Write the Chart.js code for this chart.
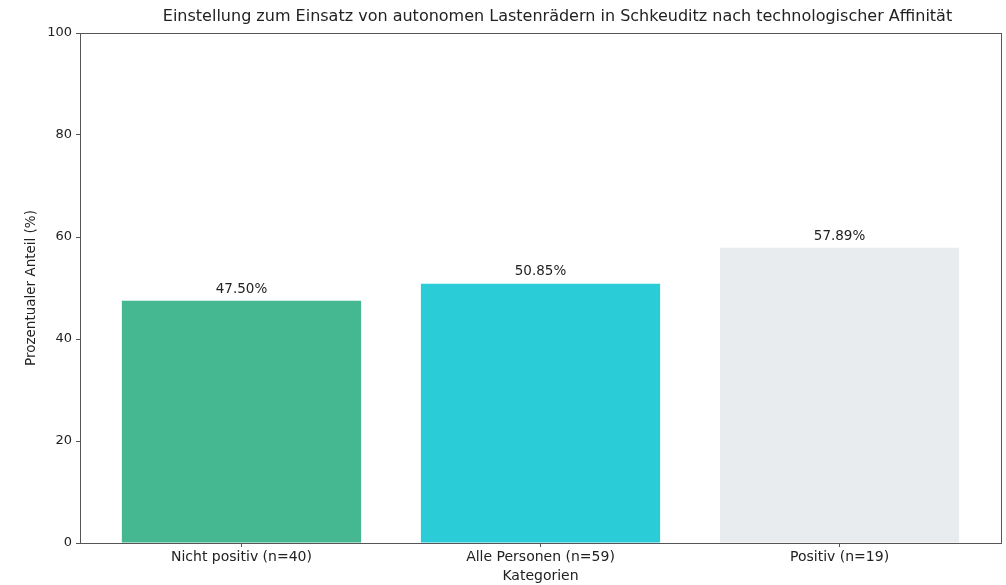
<!DOCTYPE html>
<html lang="de">
<head>
<meta charset="UTF-8">
<title>Lastenräder Schkeuditz</title>
<script src="https://cdn.jsdelivr.net/npm/chart.js"></script>
<style>
  body { margin: 0; background: #fff; }
  #wrap { width: 1006px; height: 585px; }
</style>
</head>
<body>
<div id="wrap"><canvas id="grafico" width="1006" height="585"></canvas></div>
<script>
const kategorien = ['Nicht positiv (n=40)', 'Alle Personen (n=59)', 'Positiv (n=19)'];
const anteile = [47.50, 50.85, 57.89];
const farben = ['#45b791', '#2accd8', '#e8ecef'];
const yTicks = [0, 20, 40, 60, 80, 100];
const titel = 'Einstellung zum Einsatz von autonomen Lastenrädern in Schkeuditz nach technologischer Affinität';

const schrift = "'DejaVu Sans', sans-serif";

// titel über dem plotbereich, rahmen + werte über den balken
const rahmenUndWerte = {
  id: 'rahmenUndWerte',
  afterDatasetsDraw(chart) {
    const ctx = chart.ctx;
    const a = chart.chartArea;
    ctx.save();
    ctx.strokeStyle = '#555';
    ctx.lineWidth = 1;
    ctx.strokeRect(Math.round(a.left) + 0.5, Math.round(a.top) + 0.5, Math.round(a.right - a.left), Math.round(a.bottom - a.top));
    ctx.fillStyle = '#222';
    ctx.textAlign = 'center';
    ctx.textBaseline = 'middle';
    ctx.font = '16px ' + schrift;
    ctx.fillText(titel, (a.left + a.right) / 2 + 17, a.top - 16);
    ctx.font = '13.5px ' + schrift;
    ctx.textBaseline = 'bottom';
    chart.getDatasetMeta(0).data.forEach(function (bar, i) {
      ctx.fillText(anteile[i].toFixed(2) + '%', bar.x, bar.y - 5);
    });
    ctx.restore();
  }
};

new Chart(document.getElementById('grafico'), {
  type: 'bar',
  data: {
    datasets: [{
      data: anteile.map(function (v, i) { return { x: i, y: v }; }),
      backgroundColor: farben,
      borderWidth: 0,
      barPercentage: 0.8,
      categoryPercentage: 1.0
    }]
  },
  options: {
    responsive: false,
    animation: false,
    layout: { padding: { top: 33, right: 5, left: 0, bottom: 0 } },
    plugins: {
      legend: { display: false },
      tooltip: { enabled: false },
      title: { display: false }
    },
    scales: {
      x: {
        type: 'linear',
        offset: false,
        min: -0.54,
        max: 2.54,
        afterBuildTicks: function (axis) {
          axis.ticks = [0, 1, 2].map(function (v) { return { value: v }; });
        },
        afterFit: function (axis) { axis.height = 42; },
        ticks: {
          autoSkip: false,
          maxRotation: 0,
          color: '#222',
          font: { family: schrift, size: 14 },
          padding: 2,
          callback: function (v) { return kategorien[v]; }
        },
        grid: { offset: false, drawOnChartArea: false, drawTicks: true, tickLength: 4, color: '#555' },
        border: { display: false },
        title: {
          display: true,
          text: 'Kategorien',
          color: '#222',
          font: { family: schrift, size: 14 },
          padding: { top: 0, bottom: 0 }
        }
      },
      y: {
        min: 0,
        max: 100,
        afterBuildTicks: function (axis) {
          axis.ticks = yTicks.map(function (v) { return { value: v }; });
        },
        afterFit: function (axis) { axis.width = 80; },
        ticks: {
          color: '#222',
          font: { family: schrift, size: 13 },
          padding: 4
        },
        grid: { drawOnChartArea: false, drawTicks: true, tickLength: 4, color: '#555' },
        border: { display: false },
        title: {
          display: true,
          text: 'Prozentualer Anteil (%)',
          color: '#222',
          font: { family: schrift, size: 13.5 },
          padding: { top: 23, bottom: 0 }
        }
      }
    }
  },
  plugins: [rahmenUndWerte]
});
</script>
</body>
</html>
